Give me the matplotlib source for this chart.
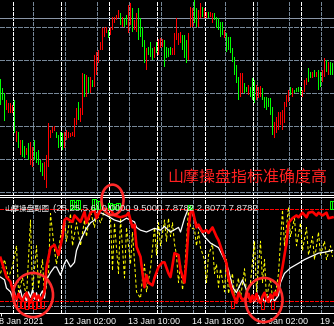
import matplotlib
matplotlib.use("Agg")
import matplotlib.pyplot as plt
import matplotlib.transforms as mtransforms
from matplotlib.patches import Ellipse
import numpy as np

W, H = 334, 326
PX = 0.72  # one pixel in points at dpi 100
plt.rcParams['lines.scale_dashes'] = False

# ---------------- price bars (H1, one bar every 2 px) ----------------
bar_high = [115, 106, 101, 94, 91, 91, 89, 94, 63, 62,
            54, 54, 48, 46, 51, 52, 47, 54, 42, 44,
            34, 31, 32, 39, 71, 64, 67, 68, 62, 59,
            62, 61, 62, 64, 62, 61, 62, 76, 86, 92,
            86, 121, 120, 119, 117, 117, 114, 139, 142, 144,
            152, 166, 167, 167, 164, 167, 177, 177, 179, 184,
            181, 177, 176, 179, 189, 191, 186, 174, 181, 186,
            176, 167, 154, 146, 147, 152, 146, 147, 152, 155,
            156, 155, 154, 147, 146, 147, 146, 161, 176, 161,
            162, 159, 159, 154, 161, 187, 186, 194, 186, 184,
            191, 187, 186, 182, 182, 182, 181, 181, 177, 176,
            172, 172, 164, 161, 157, 157, 146, 137, 129, 117,
            121, 121, 111, 107, 109, 107, 116, 114, 109, 107,
            108, 106, 97, 97, 96, 96, 87, 72, 77, 82,
            82, 84, 92, 99, 104, 107, 106, 104, 106, 107,
            107, 104, 114, 116, 126, 122, 122, 124, 122, 124,
            122, 124, 136, 134, 132, 132, 131]
bar_low = [89, 94, 73, 84, 81, 81, 81, 61, 52, 46,
           39, 37, 36, 39, 34, 29, 27, 34, 31, 29,
           22, 18, 14, 6, 27, 56, 61, 63, 56, 46,
           47, 44, 46, 54, 56, 57, 58, 57, 69, 74,
           72, 79, 97, 97, 101, 101, 107, 107, 119, 131,
           144, 144, 157, 161, 156, 159, 164, 171, 174, 176,
           169, 167, 167, 169, 161, 169, 162, 164, 162, 154,
           157, 147, 131, 124, 139, 137, 134, 136, 141, 139,
           146, 147, 127, 136, 137, 139, 139, 139, 154, 149,
           151, 144, 136, 131, 134, 167, 167, 171, 167, 167,
           176, 177, 176, 176, 176, 177, 171, 174, 166, 164,
           157, 159, 156, 142, 144, 141, 132, 119, 111, 94,
           97, 101, 101, 102, 99, 97, 94, 91, 94, 96,
           97, 94, 86, 84, 87, 79, 59, 56, 61, 64,
           69, 64, 71, 87, 92, 99, 97, 101, 102, 102,
           99, 97, 102, 109, 112, 116, 116, 117, 117, 104,
           107, 112, 117, 122, 119, 119, 119]
# R = rising bar (red), G = falling bar (green)
bar_dir = ("GGGRRRRGRG" "RGGRGRRGGG" "GGRRRRRRGG" "GGRRRRRRRG"
           "RRGRGRGRRR" "RRRRGRRRRR" "GRGGRRGRRG" "GGGRGGGRGR"
           "RRGGGGRRRR" "RGGGRRRGGR" "RGRRGRRGGG" "GGRGGGGGGG"
           "RRGGRGGGRR" "RGGGGGGRRR" "RRRRRGRGGG" "GRRRGGRGRG"
           "GRRGRGG")
bid_price = 176
price_grid = [2, 35, 68, 101, 134, 167]

# time axis
grid_bars = [16, 32, 48, 64, 80, 96, 112, 128, 144, 160]
day_sep_bars = [6, 30, 54, 78, 102, 126, 150]
label_bars = [-0.75, 32, 64, 96, 128, 160]
label_text = ["8 Jan 2021", "12 Jan 02:00", "13 Jan 10:00",
              "14 Jan 18:00", "18 Jan 02:00", "19 Jan 10:00"]

# ---------------- sub-window indicator ----------------
red_line = [(0, 47), (2, 33), (3, 26), (5, 21), (6, 12), (7, 6), (8, 2), (9, 8),
            (10, 3), (11, 0), (12, 5), (13, 9), (14, 3), (15, -2), (16, 4), (17, 8),
            (18, 2), (19, 6), (20, 1), (21, 4), (22, 10), (23, 37), (25, 58), (27, 61),
            (29, 50), (31, 70), (32, 88), (33, 90), (36, 86), (37, 93), (40, 86), (42, 97),
            (43, 85), (45, 96), (47, 99), (48, 90), (50, 99), (52, 100), (55, 99), (57, 93),
            (60, 91), (63, 93), (64, 96), (66, 80), (67, 83), (68, 59), (70, 48), (71, 30),
            (72, 15), (73, 28), (74, 20), (76, 17), (77, 25), (79, 37), (81, 42), (82, 42),
            (83, 36), (84, 30), (85, 26), (87, 52), (89, 50), (90, 34), (92, 20), (93, 45),
            (94, 80), (95, 96), (96, 99), (98, 80), (99, 83), (101, 75), (103, 77), (104, 74),
            (106, 80), (108, 70), (109, 66), (111, 53), (113, 41), (114, 25), (116, 9), (118, -2),
            (119, 9), (121, 1), (123, 4), (124, 8), (125, -1), (126, 6), (127, 1), (128, 8),
            (129, 0), (130, -2), (131, 5), (132, 9), (133, 2), (134, -1), (135, 7), (136, 3),
            (137, 9), (138, 6), (139, 15), (141, 37), (143, 63), (144, 85), (146, 90), (148, 93),
            (149, 91), (151, 96), (153, 91), (154, 96), (156, 97), (158, 93), (159, 96), (161, 93),
            (163, 96), (164, 90), (166, 91)]
white_line = [(0, 26), (2, 23), (3, 14), (5, 10), (6, 4), (7, 10), (8, 0), (9, 6),
              (10, 12), (11, 2), (12, 8), (13, -1), (14, 10), (15, 4), (16, 12), (17, 2),
              (18, 9), (19, 0), (20, 7), (21, 11), (22, 3), (23, 23), (25, 31), (27, 37),
              (28, 37), (30, 28), (32, 41), (33, 45), (35, 37), (37, 42), (38, 55), (40, 66),
              (42, 75), (43, 79), (45, 85), (47, 88), (48, 93), (50, 96), (53, 93), (57, 88),
              (60, 86), (63, 90), (67, 86), (68, 80), (70, 77), (73, 75), (77, 79), (80, 77),
              (82, 81), (85, 75), (89, 80), (90, 75), (92, 90), (94, 101), (95, 102), (97, 88),
              (99, 80), (100, 77), (102, 70), (105, 63), (109, 58), (112, 45), (114, 34), (116, 15),
              (118, 9), (119, 14), (121, 23), (123, 12), (124, 4), (125, 0), (126, 5), (127, -1),
              (128, 3), (129, 6), (130, 0), (131, 4), (132, -2), (133, 3), (134, 5), (135, -1),
              (136, 4), (137, 0), (138, 3), (139, 6), (140, 20), (142, 30), (145, 36), (149, 41),
              (152, 45), (155, 48), (159, 52), (162, 53), (166, 55)]
yellow_line = [(0, 30), (2, 45), (4, 25), (6, 38), (8, 60), (9, 10), (11, 25), (13, 5),
               (15, 88), (16, 10), (18, 60), (19, 15), (21, 45), (22, 5), (24, 30), (25, 95),
               (27, 55), (28, 40), (30, 70), (32, 88), (33, 65), (35, 95), (36, 60), (38, 85),
               (40, 60), (42, 88), (43, 70), (45, 98), (47, 80), (48, 95), (50, 85), (52, 98),
               (54, 95), (55, 90), (56, 33), (57, 85), (59, 30), (60, 90), (62, 25), (63, 80),
               (65, 40), (66, 75), (68, 10), (70, 3), (71, 25), (72, 40), (73, 10), (75, 35),
               (77, 80), (78, 50), (79, 85), (80, 60), (82, 88), (83, 65), (84, 90), (85, 70),
               (86, 85), (87, 62), (88, 50), (89, 20), (90, 40), (91, 12), (92, 30), (94, 100),
               (95, 80), (97, 78), (98, 60), (99, 75), (100, 58), (102, 45), (103, 20), (104, 50),
               (106, 62), (107, 30), (108, 40), (109, 15), (110, 35), (112, 10), (113, 45), (114, 8),
               (116, 30), (117, 5), (119, 25), (120, 3), (122, 35), (123, 8), (125, 20), (127, 65),
               (128, 10), (130, 65), (131, 20), (132, 45), (133, 3), (135, 25), (136, 2), (138, 15),
               (139, 30), (141, 99), (142, 60), (144, 102), (145, 70), (147, 90), (148, 60), (150, 85),
               (151, 55), (153, 80), (154, 50), (156, 70), (157, 45), (159, 75), (160, 50), (162, 65),
               (163, 45), (165, 60), (166, 48)]
buy_bars = [35, 36, 37, 38, 39, 46, 47, 48, 49, 54, 55, 56, 57, 58, 59, 94, 95, 165, 166]
buy_tops = [110, 110, 108, 110, 110, 111, 111, 109, 109, 106, 106, 105, 105, 106, 106, 104, 104, 109, 109]
sell_bars = [9, 11, 13, 15, 17, 19, 21, 116, 131, 136]
sell_bottoms = [-8, -8, -9, -8, -9, -8, -8, -8, -9, -9]
levels = [0, 100]
ind_name = "山摩操盘副图"
ind_values = "(25,25,5,6) 0.0000 9.5000 7.8782 2.3077 7.8782"
note = "山摩操盘指标准确度高"

GRAY = '#778899'
GREEN = '#00ff00'
RED = '#ff0000'

fig = plt.figure(figsize=(W / 100, H / 100), dpi=100, facecolor='black')
ax = fig.add_axes([0, (H - 194.5) / H, 1, 194.5 / H])
ax_ind = fig.add_axes([0, (H - 312.5) / H, 1, 116 / H])

for a in (ax, ax_ind):
    a.set_facecolor('black')
    a.set_xlim(-0.25, 166.75)
    for s in a.spines.values():
        s.set_visible(False)
    a.set_xticks(grid_bars)
    a.grid(axis='x', color=GRAY, lw=PX, dashes=(2.2, 1.4), antialiased=False)
    for b in day_sep_bars:
        a.axvline(b, color='white', lw=PX, dashes=(2.2, 1.4), zorder=1, antialiased=False)
    a.tick_params(left=False, labelleft=False, bottom=False, labelbottom=False)

# main window
ax.set_ylim(-0.5, 194)
ax.set_yticks(price_grid)
ax.grid(axis='y', color=GRAY, lw=PX, dashes=(2.9, 1.4), antialiased=False)
ax.spines['bottom'].set_visible(True)
ax.spines['bottom'].set_color('white')
ax.spines['bottom'].set_linewidth(PX)
ax.axhline(bid_price, color='#8a96a8', lw=PX, zorder=2, antialiased=False)
idx = np.arange(len(bar_high))
cols = [RED if d == 'R' else GREEN for d in bar_dir]
ax.bar(idx, np.array(bar_high) - np.array(bar_low), bottom=bar_low, width=0.6,
       color=cols, lw=0, antialiased=False, zorder=3)

# indicator window
ax_ind.set_ylim(-12.5, 113.6)
ax_ind.set_yticks([-5.4])
ax_ind.grid(axis='y', color=GRAY, lw=PX, dashes=(2.9, 1.4), antialiased=False)
for s in ('top', 'bottom'):
    ax_ind.spines[s].set_visible(True)
    ax_ind.spines[s].set_color('white')
    ax_ind.spines[s].set_linewidth(PX)
for lv in levels:
    ax_ind.axhline(lv, color=RED, lw=PX, dashes=(2.2, 1.4), zorder=2, antialiased=False)

for series, kw in ((yellow_line, dict(color='#ffff00', lw=PX, dashes=(2.2, 1.6))),
                   (white_line, dict(color='white', lw=0.9)),
                   (red_line, dict(color=RED, lw=1.9))):
    xs, vs = zip(*series)
    ax_ind.plot(xs, vs, zorder=4, **kw)

ax_ind.bar(buy_bars, np.array(buy_tops) - 100, bottom=100, width=1.0,
           facecolor='none', edgecolor=GREEN, lw=PX, zorder=5)
ax_ind.bar(sell_bars, sell_bottoms, bottom=0, width=1.6,
           facecolor='none', edgecolor=RED, lw=PX, zorder=5)

ax_ind.set_xticks([0] + label_bars[1:], minor=True)
ax_ind.tick_params(axis='x', which='minor', bottom=True, length=2.5, width=PX,
                   color='white', direction='out', labelbottom=False)

lab_tr = mtransforms.blended_transform_factory(ax_ind.transData, fig.transFigure)
for b, t in zip(label_bars, label_text):
    ax_ind.text(b, (H - 324.5) / H, t, transform=lab_tr, ha='left', va='baseline',
                color='white', fontsize=6.5, family='Liberation Sans', clip_on=False)

fig.text(4 / W, (H - 211) / H, ind_name, ha='left', va='baseline', color='#e6e6e6',
         fontsize=5.4, family=['Noto Sans CJK SC', 'DejaVu Sans'])
fig.text(53 / W, (H - 211) / H, ind_values, ha='left', va='baseline', color='#e6e6e6',
         fontsize=6.8, family='Liberation Sans')

fig.text(167 / W, (H - 177.5) / H, note, ha='left', va='center', color='#ff2020',
         fontsize=11.5, family=['Noto Sans CJK SC', 'DejaVu Sans'])

# highlight rings
for cx, cy, w, h in ((56.0, 110, 11, 33), (16.25, 6.5, 20, 48), (131.75, 1.1, 18.5, 48)):
    ax_ind.add_patch(Ellipse((cx, cy), w, h, facecolor='none', edgecolor='#ff2a2a',
                             lw=1.9, clip_on=False, zorder=10))

fig.savefig("out.png", dpi=100, facecolor='black')
